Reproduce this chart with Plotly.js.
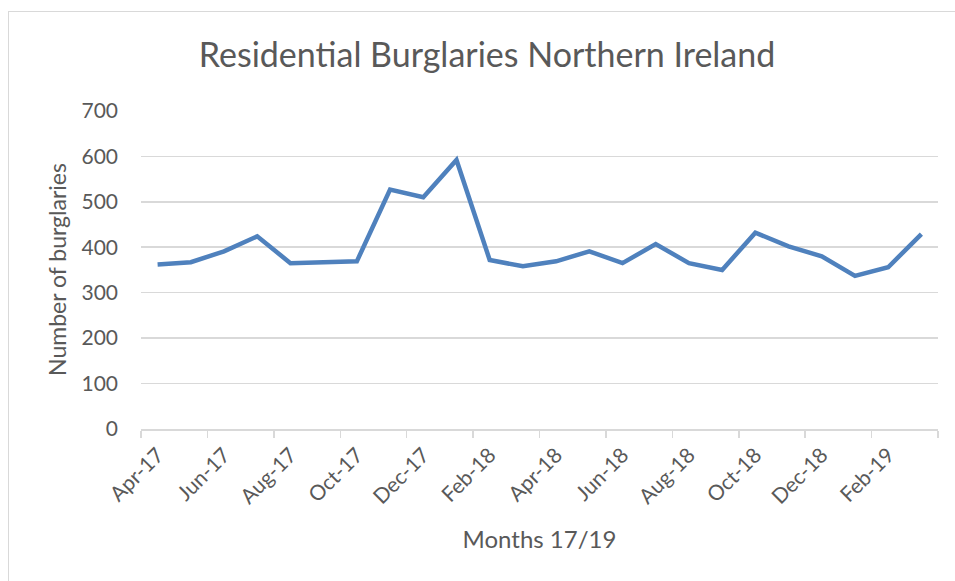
<!DOCTYPE html>
<html>
<head>
<meta charset="utf-8">
<script src="https://cdn.plot.ly/plotly-3.0.1.min.js"></script>
<style>
  html, body { margin: 0; padding: 0; background: #ffffff; }
  #frame { position: absolute; left: 8px; top: 11px; width: 1200px; height: 900px; border: 1px solid #d9d9d9; }
  #chart { position: absolute; left: 0; top: 0; width: 955px; height: 581px; }
</style>
</head>
<body>
<div id="frame"></div>
<div id="chart"></div>
<script>
const months = ["Apr-17","May-17","Jun-17","Jul-17","Aug-17","Sep-17","Oct-17","Nov-17","Dec-17","Jan-18","Feb-18","Mar-18",
                "Apr-18","May-18","Jun-18","Jul-18","Aug-18","Sep-18","Oct-18","Nov-18","Dec-18","Jan-19","Feb-19","Mar-19"];
const burglaries = [362, 367, 391, 424, 365, 368, 369, 527, 510, 592, 372, 358,
                    369, 391, 365, 407, 365, 350, 432, 402, 380, 337, 356, 429];

const textColor = "#595959";
const fontFamily = "Lato, 'Open Sans', sans-serif";

const trace = {
  x: months,
  y: burglaries,
  type: "scatter",
  mode: "lines",
  line: { color: "#4F81BD", width: 4.5 },
  hoverinfo: "x+y"
};

const layout = {
  width: 955,
  height: 581,
  paper_bgcolor: "rgba(0,0,0,0)",
  plot_bgcolor: "rgba(0,0,0,0)",
  margin: { l: 141, r: 17, t: 110, b: 152 },
  showlegend: false,
  font: { family: fontFamily, color: textColor },
  title: {
    text: "Residential Burglaries Northern Ireland",
    font: { family: fontFamily, size: 34, color: textColor },
    x: 0.51, xanchor: "center", xref: "container",
    y: 0.905, yanchor: "middle", yref: "container"
  },
  xaxis: {
    type: "category",
    tickmode: "linear",
    tick0: 0,
    dtick: 2,
    tickson: "boundaries",
    ticks: "outside",
    ticklen: 7,
    tickcolor: "#d9d9d9",
    tickwidth: 1.5,
    showline: true,
    linecolor: "#d9d9d9",
    linewidth: 1.5,
    showgrid: false,
    tickangle: -45,
    ticklabelstandoff: 4,
    tickfont: { family: fontFamily, size: 21, color: textColor },
    title: { text: "Months 17/19", font: { family: fontFamily, size: 24, color: textColor }, standoff: 24 },
    range: [-0.5, 23.5],
    fixedrange: true
  },
  yaxis: {
    range: [0, 702],
    tickmode: "linear",
    tick0: 0,
    dtick: 100,
    showgrid: true,
    gridcolor: "#d9d9d9",
    gridwidth: 1.5,
    zeroline: false,
    showline: false,
    ticks: "",
    ticklabelstandoff: 22,
    tickfont: { family: fontFamily, size: 21, color: textColor },
    title: { text: "Number of burglaries", font: { family: fontFamily, size: 23, color: textColor }, standoff: 8 },
    fixedrange: true
  }
};

Plotly.newPlot("chart", [trace], layout, { displayModeBar: false, staticPlot: true });
</script>
</body>
</html>
